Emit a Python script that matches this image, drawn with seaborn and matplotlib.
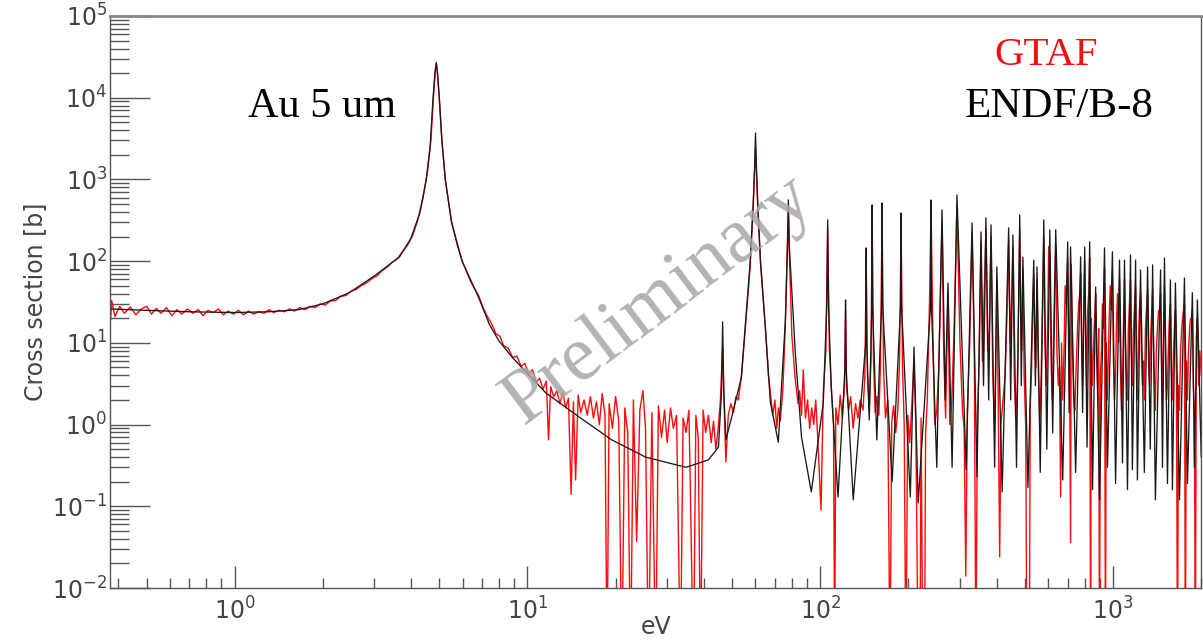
import numpy as np
import pandas as pd
import seaborn as sns
import matplotlib.pyplot as plt
from matplotlib.ticker import LogLocator, NullFormatter

# ENDF/B-8 curve, (eV, barn) pairs
endf_low = [(0.375, 26), (0.5, 25), (0.7, 24), (1.0, 23.5), (1.3, 24), (1.66, 25.5),
            (2.0, 30), (2.46, 41), (3.0, 66), (3.65, 112), (4.0, 190), (4.3, 400),
            (4.51, 1000), (4.65, 2500), (4.76, 10000), (4.83, 20000), (4.88, 27000),
            (4.93, 20000), (5.0, 10000), (5.1, 3000), (5.24, 1000), (5.5, 300),
            (5.98, 100), (6.83, 35), (7.4, 17), (8.0, 10.5), (8.86, 6.7), (10.0, 4.2),
            (11.56, 2.44), (15.0, 1.24), (19.4, 0.65), (25.3, 0.40), (34.8, 0.30),
            (41.5, 0.37), (44.9, 0.53), (46.0, 2.5), (46.4, 18), (46.8, 2.5), (47.6, 0.65)]
endf_mid = [(50.0, 1.3), (53.8, 3.8), (55.3, 14.4), (57.6, 95), (59.0, 500), (59.7, 1500),
            (60.1, 3700), (60.5, 1500), (61.2, 500), (62.5, 100), (65.0, 14.4), (67.6, 1.84),
            (71.9, 0.61), (76.0, 19), (77.2, 150), (77.8, 561), (78.4, 150), (82.2, 7.5),
            (86.3, 0.70), (93.2, 0.15), (102.4, 1.84), (105.3, 30), (106, 319), (106.7, 30),
            (109, 2.9), (115, 0.13), (121.5, 5), (122, 33.5), (122.5, 5), (129.6, 0.12),
            (143, 10), (143.5, 145), (144, 10), (147, 1.14), (150, 30), (150.4, 487),
            (150.9, 30), (156, 0.65), (162, 30), (162.6, 515), (163.2, 30), (176, 0.2),
            (188.2, 30), (188.8, 389), (189.4, 30), (203, 0.13), (209, 8.9), (216, 0.11)]
endf_high = [(238.3, 30), (239, 560), (239.7, 30), (250, 0.30), (260.6, 424), (267, 2),
             (273, 54), (282, 0.3), (293, 646), (315, 0.28), (330, 294), (343, 0.23),
             (354, 228), (361, 3), (368, 338), (376, 2), (383, 277), (394, 0.3), (401, 85),
             (418, 0.15), (440, 255), (447, 2), (455, 209), (468, 0.3), (480, 367), (486, 3),
             (492, 112), (512, 0.17), (536, 103), (543, 3), (550, 85), (564, 0.26),
             (580, 319), (594, 0.5), (608, 241), (622, 0.79), (637, 241), (673, 0.21),
             (700, 172), (708, 1.4), (716, 149), (745, 0.26), (775, 113), (787, 1.4),
             (800, 149), (815, 0.53), (832, 172), (851, 0.16), (872, 48), (899, 0.12),
             (935, 145), (957, 0.30), (995, 130), (1020, 0.19), (1052, 103), (1077, 0.34),
             (1094, 103), (1120, 0.16), (1147, 119), (1164, 0.28), (1194, 103), (1211, 0.21),
             (1241, 78), (1279, 0.26), (1312, 85), (1340, 0.5), (1365, 90), (1395, 0.12),
             (1453, 78), (1475, 0.3), (1498, 109), (1534, 0.19), (1570, 59), (1595, 0.16),
             (1633, 54), (1686, 0.12), (1753, 62), (1795, 0.19), (1866, 41), (1896, 0.3),
             (1941, 33.5), (2000, 0.4)]

# GTAF measurement, (eV, barn); 0.001 marks the points that fall below the axis
gtaf_low = [(0.375, 30), (0.377, 19), (0.38, 33), (0.39, 21), (0.405, 28), (0.42, 23),
            (0.44, 27.5), (0.46, 22), (0.48, 26), (0.50, 28), (0.52, 22.5), (0.54, 26.5),
            (0.56, 23), (0.585, 27), (0.61, 21.5), (0.635, 25.5), (0.66, 22.5), (0.69, 26),
            (0.72, 23), (0.75, 25.5), (0.78, 21.5), (0.81, 25), (0.845, 23.5), (0.88, 26),
            (0.915, 22), (0.95, 24.5), (0.99, 22.5), (1.03, 25), (1.07, 22), (1.115, 24.5),
            (1.16, 22.5), (1.21, 24), (1.26, 23), (1.31, 25.5), (1.36, 23.5), (1.42, 25),
            (1.48, 24), (1.54, 26), (1.6, 24.5), (1.67, 27), (1.74, 25.5), (1.81, 28),
            (1.88, 27), (1.96, 30), (2.04, 29), (2.12, 32.5), (2.21, 33), (2.3, 37),
            (2.4, 38), (2.5, 43), (2.6, 45), (2.7, 50), (2.82, 54), (2.94, 61), (3.06, 66),
            (3.18, 76), (3.31, 84), (3.45, 97), (3.6, 108), (3.75, 132), (3.9, 158),
            (4.05, 205), (4.2, 300), (4.4, 600), (4.55, 1200), (4.68, 3000), (4.78, 11000),
            (4.85, 22000), (4.89, 26000), (4.93, 19000), (5.0, 9500), (5.1, 3100),
            (5.24, 1000), (5.5, 310), (5.75, 160), (6.0, 98), (6.4, 56), (6.83, 37)]
gtaf_valley = [(7.05, 27), (7.3, 21), (7.55, 17), (7.8, 13), (8.05, 12), (8.3, 9.2),
               (8.6, 8.6), (8.9, 6.6), (9.2, 6.9), (9.5, 5.2), (9.8, 5.6), (10.1, 4.1),
               (10.4, 4.7), (10.7, 3.3), (11.0, 3.7), (11.3, 2.7), (11.6, 3.4), (11.8, 0.65),
               (12.0, 2.9), (12.3, 2.2), (12.6, 2.6), (12.9, 1.8), (13.2, 2.5), (13.5, 1.6),
               (13.8, 2.1), (14.1, 0.14), (14.35, 1.9), (14.6, 0.21), (14.9, 2.3), (15.2, 1.4),
               (15.6, 2.0), (16.0, 1.3), (16.4, 2.2), (16.8, 1.2), (17.2, 1.9), (17.6, 1.0),
               (18.0, 2.4), (18.4, 1.3), (18.7, 0.001), (19.0, 1.8), (19.5, 0.9), (20.0, 2.2),
               (20.5, 1.1), (21.0, 0.001), (21.5, 1.6), (22.0, 0.8), (22.5, 0.001), (23.0, 2.0),
               (23.6, 0.037), (24.2, 1.5), (24.8, 2.6), (25.3, 0.9), (25.9, 0.001), (26.6, 1.4),
               (27.4, 0.001), (28.0, 1.7), (28.7, 0.7), (29.4, 1.5), (30.0, 0.6), (30.8, 1.6),
               (31.5, 0.9), (32.3, 1.3), (33.3, 0.001), (34.0, 1.2), (34.8, 0.8), (35.6, 1.5),
               (36.9, 0.001), (37.6, 1.3), (38.3, 0.7), (39.0, 0.001), (39.8, 1.5), (40.6, 0.8),
               (41.5, 1.3), (42.4, 0.6), (43.2, 1.1), (44.0, 0.5), (44.8, 0.9)]
gtaf_mid = [(45.6, 2.0), (46.4, 9), (47.0, 1.6), (47.6, 0.35), (48.5, 1.3), (49.5, 1.8),
            (50.5, 1.4), (51.5, 2.2), (52.5, 2.0), (53.8, 4.0), (55.3, 13), (57.6, 85),
            (59.0, 450), (59.7, 1300), (60.1, 2500), (60.5, 1300), (61.2, 420), (62.5, 95),
            (65.0, 15), (66.5, 4), (67.6, 2.4), (68.8, 1.3), (70.0, 2.0), (71.0, 0.9),
            (72.0, 1.6), (73.0, 1.1), (74.5, 2.6), (76.0, 17), (77.2, 130), (77.8, 400),
            (78.4, 130), (80.0, 12), (82.2, 3.5), (84.0, 1.8), (85.0, 2.6), (86.3, 1.3),
            (87.5, 4.7), (89.0, 1.2), (90.5, 2.0), (92.0, 0.9), (93.5, 1.6), (95.0, 1.0),
            (96.5, 2.0), (98.0, 0.7), (100.6, 0.09), (102.4, 2.5), (104.5, 8), (106, 250),
            (107.5, 8), (109.5, 2.2), (111, 1.0), (112, 0.001), (113, 1.6), (115, 1.0),
            (117, 2.3), (119, 1.2), (121, 3), (122, 25), (123, 3), (125, 1.5), (127, 2.2),
            (129.5, 0.9), (132, 1.8), (134.5, 1.2), (137, 2.0), (140, 1.5), (142, 4),
            (143.5, 110), (145, 4), (147, 1.5), (149, 6), (150.4, 380), (152, 6), (154, 1.4),
            (156, 2.2), (158.5, 1.3), (160.5, 5), (162.6, 400), (164.5, 5), (167, 1.2),
            (170, 2.0), (173, 0.001), (175.5, 1.1), (178, 1.7), (181, 0.8), (184, 1.5),
            (186.5, 6), (188.8, 300), (191, 5), (193.5, 1.0), (196, 0.001), (199, 1.3),
            (202, 0.6), (205, 1.5), (209, 6), (212, 1.0), (216, 0.001), (219, 0.001),
            (221, 1.2), (224, 0.001), (227, 0.001), (229, 0.8)]
gtaf_high = [(232, 2), (236, 30), (239, 450), (242, 20), (246, 1.0), (250, 1.5), (254, 5),
             (260.6, 300), (264, 8), (268, 1.2), (273, 40), (277, 1.0), (281, 1.8), (286, 12),
             (293, 450), (300, 10), (306, 1.5), (310, 0.9), (314, 0.014), (318, 1.5), (324, 10),
             (330, 220), (336, 6), (340, 0.001), (344, 1.2), (349, 6), (354, 170), (358, 6),
             (363, 40), (368, 250), (373, 8), (378, 15), (383, 200), (388, 5), (394, 0.8),
             (401, 60), (405, 3), (410, 0.024), (414, 1.0), (420, 1.8), (428, 4), (434, 20),
             (440, 180), (445, 10), (450, 30), (455, 150), (460, 4), (465, 1.2), (471, 3),
             (476, 30), (480, 250), (484, 20), (488, 8), (492, 80), (497, 4), (503, 1.0),
             (508, 0.001), (511, 0.001), (514, 0.001), (518, 0.001), (521, 1.5), (527, 5),
             (531, 20), (536, 70), (540, 10), (545, 5), (550, 60), (556, 4), (562, 1.0),
             (568, 4), (574, 30), (580, 200), (585, 10), (591, 3), (597, 12), (603, 150),
             (608, 120), (614, 6), (620, 2), (626, 10), (632, 60), (637, 150), (643, 8),
             (650, 3), (656, 5), (662, 0.13), (667, 10), (673, 2), (680, 8), (686, 50),
             (692, 30), (700, 110), (704, 20), (710, 6), (716, 0.036), (720, 90), (727, 8),
             (734, 2), (740, 1.5), (748, 5), (756, 15), (763, 30), (770, 40), (775, 70),
             (781, 10), (787, 3), (793, 20), (800, 100), (806, 12), (812, 3), (819, 25),
             (826, 40), (832, 110), (838, 0.001), (843, 20), (849, 3), (855, 6), (862, 15),
             (868, 25), (872, 40), (878, 8), (886, 3), (893, 15), (899, 0.001), (905, 4),
             (913, 8), (920, 30), (928, 15), (935, 80), (942, 0.001), (948, 10), (955, 2),
             (962, 5), (970, 20), (978, 50), (987, 25), (995, 70), (1003, 6), (1012, 2),
             (1020, 4), (1028, 20), (1036, 40), (1044, 10), (1052, 60), (1060, 5), (1068, 1.5),
             (1077, 3), (1086, 20), (1094, 60), (1102, 10), (1111, 4), (1120, 2), (1128, 15),
             (1137, 30), (1147, 60), (1155, 8), (1164, 3), (1172, 12), (1182, 25), (1194, 50),
             (1202, 6), (1211, 2), (1220, 10), (1230, 25), (1241, 40), (1250, 8), (1260, 3),
             (1270, 6), (1279, 2), (1290, 15), (1300, 25), (1312, 45), (1322, 6), (1332, 3),
             (1342, 10), (1353, 20), (1365, 45), (1376, 8), (1386, 3), (1395, 1.5), (1405, 8),
             (1418, 15), (1430, 25), (1442, 20), (1453, 40), (1465, 6), (1475, 2), (1487, 15),
             (1498, 50), (1510, 8), (1522, 2), (1534, 3), (1546, 10), (1558, 20), (1570, 30),
             (1582, 5), (1595, 2), (1608, 8), (1620, 15), (1633, 25), (1646, 4), (1660, 0.001),
             (1673, 3), (1686, 1.5), (1700, 8), (1715, 15), (1728, 20), (1740, 25), (1753, 30),
             (1766, 0.001), (1780, 6), (1795, 2), (1810, 8), (1825, 15), (1840, 20), (1853, 18),
             (1866, 25), (1880, 3), (1896, 1.5), (1910, 0.001), (1925, 12), (1941, 20),
             (1960, 3), (1980, 8), (2000, 4)]

endf = pd.DataFrame(endf_low + endf_mid + endf_high, columns=["eV", "xs"])
gtaf = pd.DataFrame(gtaf_low + gtaf_valley + gtaf_mid + gtaf_high, columns=["eV", "xs"])

sns.set_theme(style="white")
plt.rcParams["font.family"] = ["DejaVu Sans"]

fig = plt.figure(figsize=(12.03, 6.42), dpi=100)
ax = fig.add_axes([0.0914, 0.0841, 0.9071, 0.8910])

sns.lineplot(data=gtaf, x="eV", y="xs", color="#ff0a0a", lw=1.0, sort=False,
             estimator=None, ax=ax)
sns.lineplot(data=endf, x="eV", y="xs", color="#1a1a1a", lw=0.95, sort=False,
             estimator=None, ax=ax)

ax.set_xscale("log")
ax.set_yscale("log")
ax.set_xlim(0.375, 2000)
ax.set_ylim(1e-2, 1e5)

ax.yaxis.set_major_locator(LogLocator(base=10, numticks=20))
ax.yaxis.set_minor_locator(LogLocator(base=10, subs=np.arange(2, 10), numticks=20))
ax.yaxis.set_minor_formatter(NullFormatter())
ax.xaxis.set_major_locator(LogLocator(base=10, numticks=20))
ax.xaxis.set_minor_locator(LogLocator(base=10, subs=np.arange(2, 10), numticks=20))
ax.xaxis.set_minor_formatter(NullFormatter())

ax.tick_params(axis="y", which="major", direction="in", length=29, width=1.0,
               color="#555555", labelcolor="#444444", labelsize=17, pad=2, left=True)
ax.tick_params(axis="y", which="minor", direction="in", length=14, width=1.0,
               color="#555555", left=True)
ax.tick_params(axis="x", which="major", direction="in", length=16, width=1.0,
               color="#555555", labelcolor="#444444", labelsize=17, pad=7, bottom=True)
ax.tick_params(axis="x", which="minor", direction="in", length=7, width=1.0,
               color="#555555", bottom=True)

for side in ["left", "bottom", "right"]:
    ax.spines[side].set_color("#555555")
    ax.spines[side].set_linewidth(1.0)
ax.spines["top"].set_color("#888888")
ax.spines["top"].set_linewidth(2.0)

ax.set_xlabel("eV", fontsize=17, color="#444444")
ax.set_ylabel("Cross section [b]", fontsize=17, color="#444444")
ax.xaxis.set_label_coords(0.5, -0.047)
ax.yaxis.set_label_coords(-0.058, 0.5)

serif = ["Liberation Serif", "DejaVu Serif"]
ax.text(0.1263, 0.8234, "Au 5 um", transform=ax.transAxes, fontsize=30.5,
        family=serif, color="black", ha="left", va="baseline")
ax.text(0.8582, 0.9143, "GTAF", transform=ax.transAxes, fontsize=29.5,
        family=serif, color="#ee1111", ha="center", va="baseline")
ax.text(0.870, 0.8234, "ENDF/B-8", transform=ax.transAxes, fontsize=31,
        family=serif, color="black", ha="center", va="baseline")
ax.text(0.503, 0.503, "Preliminary", transform=ax.transAxes, fontsize=56,
        family=serif, color="#a6a6a6", alpha=0.85, ha="center", va="center",
        rotation=37, rotation_mode="anchor", zorder=5)

fig.savefig("out.png", dpi=100, facecolor="white")
